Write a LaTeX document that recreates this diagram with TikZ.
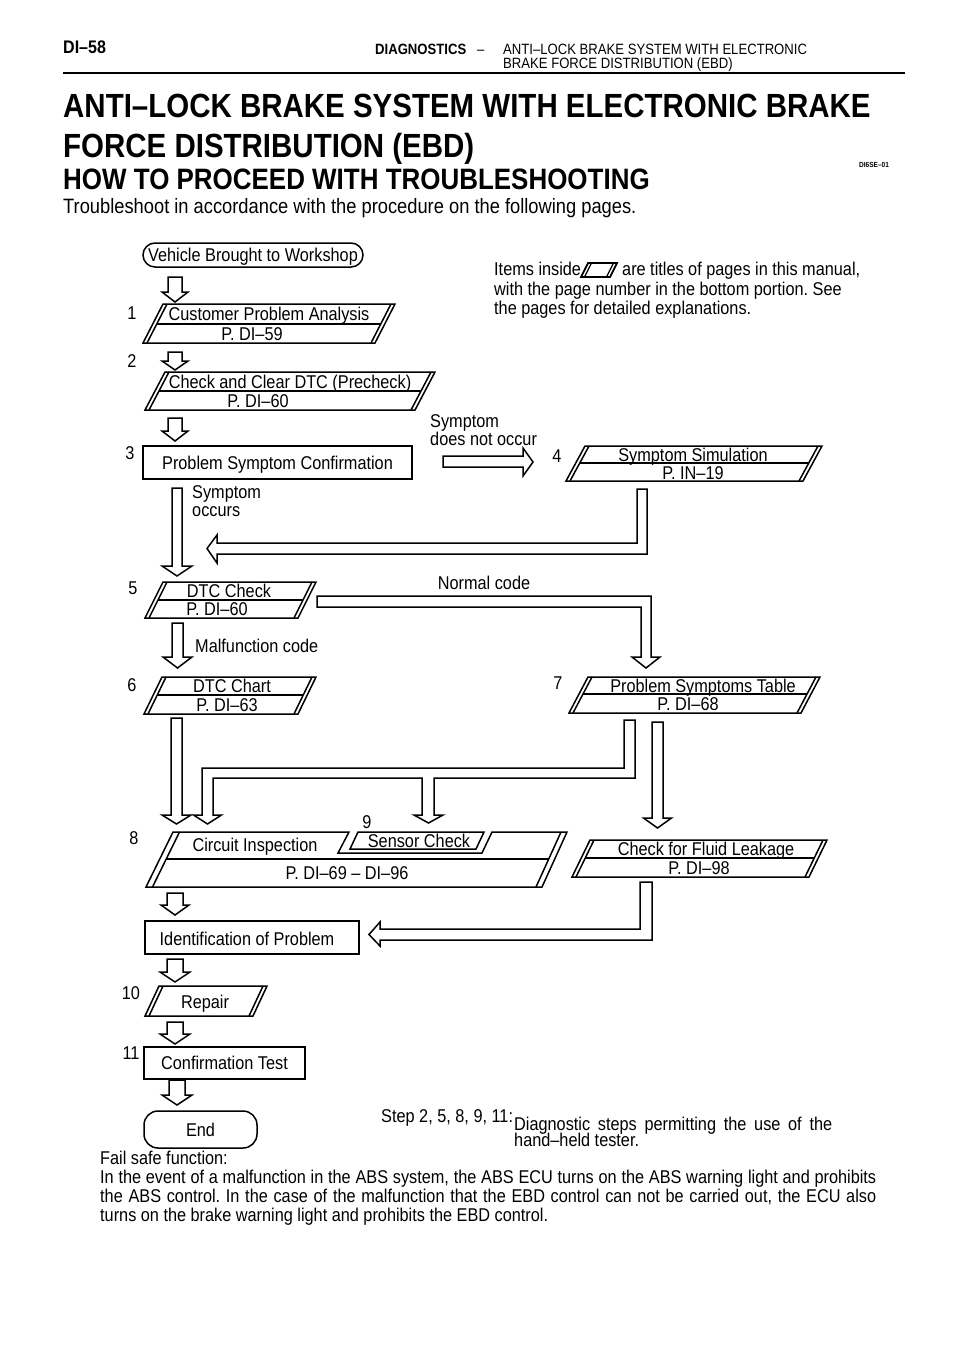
\documentclass[tikz,border=0pt]{standalone}
\usepackage{fontspec}
\setmainfont{Liberation Sans}[FakeStretch=0.88]
\frenchspacing
\newcommand\fsA{\fontsize{18.5}{21}\selectfont}
\newcommand\dpara[6]{%
  \draw[shp] (#1,#3) -- (#2,#3) -- ({#2-#5},#4) -- ({#1-#5},#4) -- cycle;
  \draw[shp] ({#1+#6},#3) -- ({#1-#5+#6},#4);
  \draw[shp] ({#2-#6},#3) -- ({#2-#5-#6},#4);
}
\newcommand\ddiv[7]{%
  \draw[shp] ({#1+#6-#5*(#7-#3)/(#4-#3)},#7) -- ({#2-#6-#5*(#7-#3)/(#4-#3)},#7);
}
\newcommand\darrow[6]{%
  \draw[shp] ({#1-#4},#2) -- ({#1+#4},#2) -- ({#1+#4},{#3-#6}) -- ({#1+#5},{#3-#6}) -- (#1,#3) -- ({#1-#5},{#3-#6}) -- ({#1-#4},{#3-#6}) -- cycle;
}
\begin{document}
\begin{tikzpicture}[x=1pt,y=-1pt,line join=miter,
  shp/.style={draw=black,line width=1.5pt},
  txt/.style={font=\fsA,inner sep=0pt,text height=13.2pt,text depth=0pt},
  num/.style={font=\fsA,inner sep=0pt,text height=13.2pt,text depth=0pt},
  para/.style={font=\fsA,inner sep=0pt,anchor=base west},
  boxn/.style={draw=black,line width=1.5pt,inner sep=0pt,font=\fsA,text height=13.2pt,text depth=0pt},
  hdr/.style={font=\fontsize{14.9}{17}\selectfont,inner sep=0pt,anchor=base west}]
\useasboundingbox[fill=white] (0,0) rectangle (960,1358);

% ---------- header ----------
\node[anchor=base west,inner sep=0pt,font=\fontsize{18.2}{20}\selectfont\bfseries] (pg) at (63,53) {DI–58};
\node[hdr,font=\fontsize{14.9}{17}\selectfont\bfseries] (diag) at (375,54) {DIAGNOSTICS};
\node[hdr] (dsh) at (477,54) {–};
\node[hdr] (hd1) at (503,54) {ANTI–LOCK BRAKE SYSTEM WITH ELECTRONIC};
\node[hdr] (hd2) at (503,68) {BRAKE FORCE DISTRIBUTION (EBD)};
\draw[line width=2pt] (63,73) -- (905,73);

\node[anchor=base west,inner sep=0pt,font=\fontsize{33.5}{36}\selectfont\bfseries] (t1) at (63,117) {ANTI–LOCK BRAKE SYSTEM WITH ELECTRONIC BRAKE};
\node[anchor=base west,inner sep=0pt,font=\fontsize{33.5}{36}\selectfont\bfseries] (t2) at (63,157) {FORCE DISTRIBUTION (EBD)};
\node[anchor=base west,inner sep=0pt,font=\fontsize{7.4}{8}\selectfont\bfseries] (code) at (859,167) {DI6SE–01};
\node[anchor=base west,inner sep=0pt,font=\fontsize{29.5}{32}\selectfont\bfseries] (t3) at (63,189) {HOW TO PROCEED WITH TROUBLESHOOTING};
\node[anchor=base west,inner sep=0pt,font=\fontsize{20.8}{23}\selectfont] (intro) at (63,213) {Troubleshoot in accordance with the procedure on the following pages.};

% ---------- legend text ----------
\node[para] (it1) at (494,275) {Items inside};
\draw[line width=1.8pt] (588,263) -- (617,263) -- (610,277) -- (581,277) -- cycle;
\draw[line width=1.2pt] (591.5,263) -- (584.5,277);
\draw[line width=1.2pt] (613.5,263) -- (606.5,277);
\node[para] (it2) at (622,275) {are titles of pages in this manual,};
\node[para] (it3) at (494,295) {with the page number in the bottom portion. See};
\node[para] (it4) at (494,314) {the pages for detailed explanations.};

% ---------- flow ----------
\node[boxn,rounded corners=12pt,minimum width=220pt,minimum height=24pt] (start) at (253,255) {Vehicle Brought to Workshop};

\darrow{175}{277}{302}{7}{13}{10}
\node[num] (n1) at (132,313) {1};
\dpara{163}{395}{304}{343}{20}{4}
\ddiv{163}{395}{304}{343}{20}{4}{324}
\node[txt] (s1a) at (269,313.5) {Customer Problem Analysis};
\node[txt] (s1b) at (252,334) {P. DI–59};

\darrow{175}{352}{370}{7}{13}{9}
\node[num] (n2) at (132,361) {2};
\dpara{165}{435}{372}{410}{20}{4}
\ddiv{165}{435}{372}{410}{20}{4}{391}
\node[txt] (s2a) at (290,381.5) {Check and Clear DTC (Precheck)};
\node[txt] (s2b) at (258,401) {P. DI–60};

\darrow{175}{418}{441}{7}{13}{10}
\node[num] (n3) at (130,453) {3};
\node[boxn,minimum width=269pt,minimum height=33pt] (s3) at (277.5,462.5) {Problem Symptom Confirmation};

\node[para] (no1) at (430,427) {Symptom};
\node[para] (no2) at (430,445) {does not occur};
\draw[shp] (443,456) -- (523,456) -- (523,448) -- (533,462) -- (523,476) -- (523,467) -- (443,467) -- cycle;

\node[num] (n4) at (557,456) {4};
\dpara{585}{822}{446}{481}{19}{4}
\ddiv{585}{822}{446}{481}{19}{4}{463}
\node[txt] (s4a) at (693,454.5) {Symptom Simulation};
\node[txt] (s4b) at (693,472.5) {P. IN–19};

% return from 4
\draw[shp] (637,489) -- (647,489) -- (647,554) -- (217,554) -- (217,563) -- (207,548.5) -- (217,535) -- (217,543) -- (637,543) -- cycle;

\node[para] (oc1) at (192,498) {Symptom};
\node[para] (oc2) at (192,516) {occurs};
\darrow{177}{488}{576}{5}{15}{10}

\node[num] (n5) at (133,588) {5};
\dpara{163}{316}{582}{618}{18}{4}
\ddiv{163}{316}{582}{618}{18}{4}{600}
\node[txt] (s5a) at (229,591) {DTC Check};
\node[txt] (s5b) at (217,609) {P. DI–60};

\node[anchor=base,inner sep=0pt,font=\fsA] (normal) at (484,589) {Normal code};
\draw[shp] (317,596) -- (651,596) -- (651,657) -- (660,657) -- (646,668) -- (632,657) -- (641,657) -- (641,607) -- (317,607) -- cycle;

\darrow{177.5}{623}{668}{5.5}{14.5}{11}
\node[para] (malf) at (195,652) {Malfunction code};

\node[num] (n6) at (132,685) {6};
\dpara{162}{316}{677}{714}{18}{4}
\ddiv{162}{316}{677}{714}{18}{4}{695}
\node[txt] (s6a) at (232,686) {DTC Chart};
\node[txt] (s6b) at (227,704.5) {P. DI–63};

\node[num] (n7) at (558,683) {7};
\dpara{588}{820}{677}{713}{19}{4}
\ddiv{588}{820}{677}{713}{19}{4}{694}
\node[txt] (s7a) at (703,685.5) {Problem Symptoms Table};
\node[txt] (s7b) at (688,703.5) {P. DI–68};

\darrow{176.5}{718}{824}{5.5}{14.5}{9}
\draw[shp] (624,720) -- (635,720) -- (635,778) -- (434,778) -- (434,815) -- (443,815) -- (428.5,823) -- (414,815) -- (422,815) -- (422,778) -- (213,778) -- (213,815) -- (221.5,815) -- (207.5,824) -- (193.5,815) -- (202,815) -- (202,768) -- (624,768) -- cycle;
\darrow{657.5}{722}{828}{5.5}{14}{10}

\node[num] (n9) at (367,822) {9};
\node[num] (n8) at (134,838) {8};
\draw[shp] (173,832) -- (349,832) -- (338,853) -- (482,853) -- (492,832) -- (567,832) -- (542,887) -- (146,887) -- cycle;
\draw[shp] (179.5,832) -- (152.5,887);
\draw[shp] (561,832) -- (536,887);
\draw[shp] (166.3,859) -- (548.7,859);
\draw[shp] (358,832) -- (484,832) -- (476,849) -- (350,849) -- cycle;
\node[txt] (s9) at (419,840.5) {Sensor Check};
\node[txt] (s8a) at (255,845) {Circuit Inspection};
\node[txt] (s8b) at (347,873) {P. DI–69 – DI–96};

\dpara{590}{827}{840}{877}{18}{4}
\ddiv{590}{827}{840}{877}{18}{4}{858}
\node[txt] (fla) at (706,849) {Check for Fluid Leakage};
\node[txt] (flb) at (699,867.5) {P. DI–98};

\draw[shp] (640,882) -- (652,882) -- (652,940) -- (380,940) -- (380,946) -- (369,934.5) -- (380,922) -- (380,929) -- (640,929) -- cycle;

\darrow{175}{893}{915}{8}{14}{10}
\node[boxn,minimum width=214pt,minimum height=33pt] (ident) at (252,937.5) {};
\node[txt] (identt) at (247,938.5) {Identification of Problem};

\darrow{175}{959}{982}{8}{15}{10}
\node[num] (n10) at (131,993) {10};
\dpara{159}{267}{986}{1016}{14}{4}
\node[txt] (s10) at (205,1002) {Repair};

\darrow{175}{1022}{1044}{8}{15}{10}
\node[num] (n11) at (131,1053) {11};
\node[boxn,minimum width=161pt,minimum height=32pt] (s11) at (224.5,1063) {Confirmation Test};

\darrow{177}{1080}{1105}{8}{15}{10}
\node[boxn,rounded corners=14pt,minimum width=113pt,minimum height=37pt] (fin) at (200.5,1129.5) {End};

% ---------- notes ----------
\node[para] (stp) at (381,1122) {Step 2, 5, 8, 9, 11:};
\node[para] (stp2) at (514,1130) {\makebox[318pt][s]{Diagnostic steps permitting the use of the}};
\node[para] (stp3) at (514,1146) {hand–held tester.};

\node[para] (fs0) at (100,1164) {Fail safe function:};
\node[para] (fs1) at (100,1183) {\makebox[776pt][s]{In the event of a malfunction in the ABS system, the ABS ECU turns on the ABS warning light and prohibits}};
\node[para] (fs2) at (100,1202) {\makebox[776pt][s]{the ABS control. In the case of the malfunction that the EBD control can not be carried out, the ECU also}};
\node[para] (fs3) at (100,1221) {turns on the brake warning light and prohibits the EBD control.};
\end{tikzpicture}
\end{document}
